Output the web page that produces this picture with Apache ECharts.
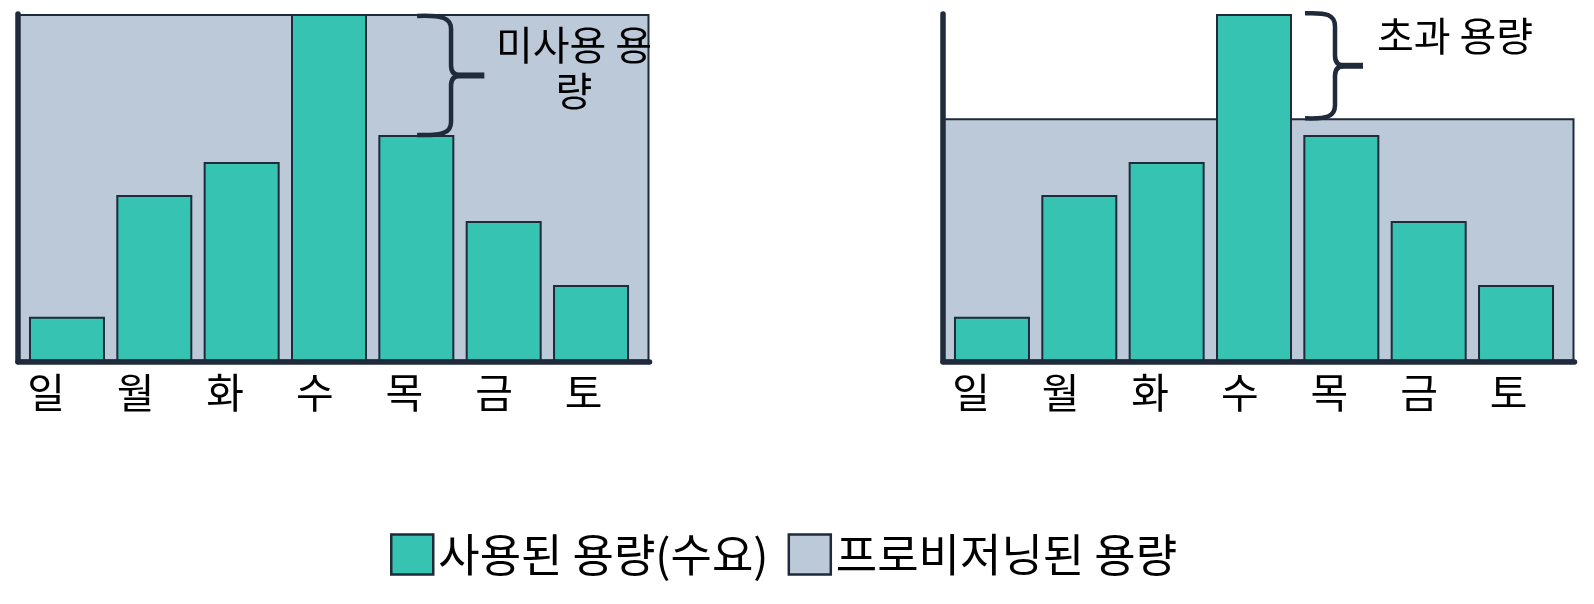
<!DOCTYPE html>
<html><head><meta charset="utf-8">
<script src="https://cdn.jsdelivr.net/npm/echarts@6/dist/echarts.min.js"></script>
<style>html,body{margin:0;padding:0;background:#fff}#c{width:1594px;height:604px}</style>
</head><body><div id="c"></div>
<script>
// ---- data ----
const days = ['일', '월', '화', '수', '목', '금', '토'];
const usedCapacity = [12.9, 47.9, 57.4, 100, 65.2, 40.4, 22.0];
const provisionedLeft = [100];
const provisionedRight = [70];
const yMax = 100;
const usedName = '사용된 용량(수요)';
const provName = '프로비저닝된 용량';
const leftNote = '미사용 용\n량';
const rightNote = '초과 용량';
// brace spans: [category index, low value, high value]
const leftBrace = [[4, 65.2, 100]];
const rightBrace = [[3, 70, 100]];

// ---- style / layout ----
const FONT = '"Noto Sans CJK KR", "Noto Sans", sans-serif';
const TEAL = '#36c3b2', GREY = '#bcc9d9', DARK = '#1f2a3a';
const TOP = 14, H = 347.5;
const panels = [
  { bg: 18, bars: 23.3, lab: 1.2, prov: provisionedLeft, brace: leftBrace, off: [0.7, 34.7, 68], pad: 2 },
  { bg: 943, bars: 948.3, lab: 926.2, prov: provisionedRight, brace: rightBrace, off: [51, 81, 109], pad: -0.7 }
];

function braceRender(off, pad) {
  return function (params, api) {
    const hi = api.coord([api.value(0), api.value(2)]);
    const lo = api.coord([api.value(0), api.value(1)]);
    const cx = hi[0];
    const x0 = cx + off[0], xv = cx + off[1], xt = cx + off[2];
    const y0 = hi[1] + pad, y1 = lo[1], ym = (y0 + y1) / 2;
    const r = 13, r2 = 10;
    const d =
      'M' + x0 + ',' + y0 +
      ' C' + (x0 + (xv - x0) * 0.75) + ',' + (y0 - 1) + ' ' + xv + ',' + (y0 + 2) + ' ' + xv + ',' + (y0 + r) +
      ' L' + xv + ',' + (ym - r2) +
      ' Q' + xv + ',' + ym + ' ' + (xv + 10) + ',' + ym +
      ' Q' + xv + ',' + ym + ' ' + xv + ',' + (ym + r2) +
      ' L' + xv + ',' + (y1 - r) +
      ' C' + xv + ',' + (y1 - 2) + ' ' + (x0 + (xv - x0) * 0.75) + ',' + (y1 + 1) + ' ' + x0 + ',' + y1;
    return {
      type: 'group',
      children: [
        { type: 'path', shape: { pathData: d }, style: { stroke: DARK, lineWidth: 4.5, fill: 'none' } },
        { type: 'line', shape: { x1: xv + 6, y1: ym, x2: xt, y2: ym }, style: { stroke: DARK, lineWidth: 6 } }
      ]
    };
  };
}

const grid = [], xAxis = [], yAxis = [], series = [];
panels.forEach((p, i) => {
  const g = grid.length;
  grid.push({ left: p.bg, top: TOP, width: 631.5, height: H });
  grid.push({ left: p.bars, top: TOP, width: 611.4, height: H });
  grid.push({ left: p.lab, top: TOP, width: 627.2, height: H });
  // background grid axes
  xAxis.push({ gridIndex: g, type: 'category', data: [provName], z: 10,
    axisLine: { show: true, lineStyle: { color: DARK, width: 5.5 } },
    axisTick: { show: false }, axisLabel: { show: false }, splitLine: { show: false } });
  yAxis.push({ gridIndex: g, type: 'value', min: 0, max: yMax, z: 10,
    axisLine: { show: true, lineStyle: { color: DARK, width: 5.5 } },
    axisTick: { show: false }, axisLabel: { show: false }, splitLine: { show: false } });
  // bars grid axes
  xAxis.push({ gridIndex: g + 1, type: 'category', data: days, show: false });
  yAxis.push({ gridIndex: g + 1, type: 'value', min: 0, max: yMax, show: false });
  // label grid axes
  xAxis.push({ gridIndex: g + 2, type: 'category', data: days,
    axisLine: { show: false }, axisTick: { show: false }, splitLine: { show: false },
    axisLabel: { show: true, margin: 10, fontSize: 41, color: '#000', fontFamily: FONT } });
  yAxis.push({ gridIndex: g + 2, type: 'value', min: 0, max: yMax, show: false });

  series.push({ type: 'bar', name: provName, xAxisIndex: g, yAxisIndex: g, data: p.prov,
    barWidth: '100%', z: 1, silent: true,
    itemStyle: { color: GREY, borderColor: DARK, borderWidth: 2 } });
  series.push({ type: 'bar', name: usedName, xAxisIndex: g + 1, yAxisIndex: g + 1, data: usedCapacity,
    barWidth: 76, z: 3, silent: true,
    itemStyle: { color: TEAL, borderColor: DARK, borderWidth: 2 } });
  series.push({ type: 'custom', xAxisIndex: g + 1, yAxisIndex: g + 1, data: p.brace, z: 5,
    silent: true, renderItem: braceRender(p.off, p.pad) });
});

const chart = echarts.init(document.getElementById('c'), null, { renderer: 'canvas' });
chart.setOption({
  animation: false,
  backgroundColor: '#fff',
  textStyle: { fontFamily: FONT },
  grid, xAxis, yAxis, series,
  legend: {
    left: 385, top: 527, itemWidth: 42, itemHeight: 40, itemGap: 19, icon: 'rect',
    data: [usedName, provName], selectedMode: false,
    itemStyle: { borderWidth: 2.5, borderColor: DARK },
    textStyle: { fontSize: 45, color: '#000', fontFamily: FONT }
  },
  graphic: [
    { type: 'text', z: 100, style: { text: leftNote, x: 574, y: 22, textAlign: 'center', textVerticalAlign: 'top',
      font: '40px ' + FONT, lineHeight: 46, fill: '#000' } },
    { type: 'text', z: 100, style: { text: rightNote, x: 1455, y: 36, textAlign: 'center', textVerticalAlign: 'middle',
      font: '40px ' + FONT, fill: '#000' } }
  ]
});
</script>
</body></html>
